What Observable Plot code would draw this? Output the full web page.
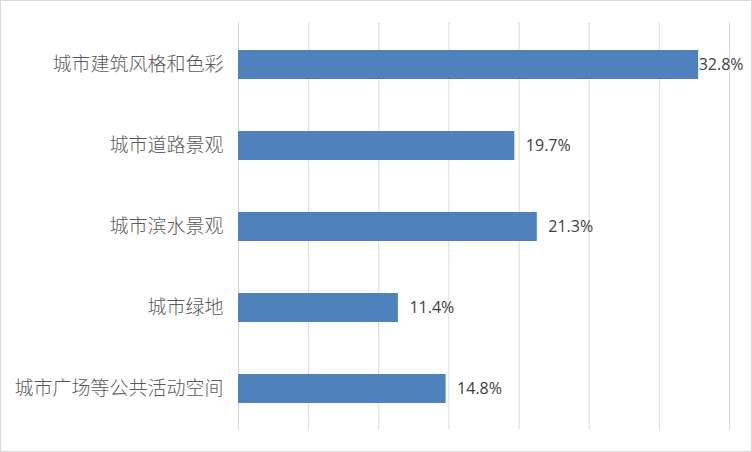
<!DOCTYPE html>
<html><head><meta charset="utf-8">
<script src="https://cdn.jsdelivr.net/npm/d3@7"></script>
<script src="https://cdn.jsdelivr.net/npm/@observablehq/plot@0.6"></script>
<style>
body{margin:0;background:#fff;}
#chart svg{display:block;}
#chart{width:750px;height:450px;border:1px solid #d9d9d9;overflow:hidden;}
</style></head>
<body><div id="chart"></div>
<script>
const categories = ["城市建筑风格和色彩","城市道路景观","城市滨水景观","城市绿地","城市广场等公共活动空间"];
const values = [32.8, 19.7, 21.3, 11.4, 14.8];
const gridTicks = [0,5,10,15,20,25,30,35];
const data = categories.map((c,i)=>({cat:c, v:values[i]}));
const labelStyle = {textAnchor:"start", fontSize:16, fill:"#404040", fontFamily:"'Open Sans', sans-serif"};
const chart = Plot.plot({
  width: 750, height: 450,
  marginLeft: 237, marginRight: 22, marginTop: 21, marginBottom: 21,
  style: {background:"#fff", fontFamily:"'Noto Sans CJK SC', sans-serif"},
  x: {domain:[0,35], axis:null},
  y: {domain: categories, paddingInner: 0.645, paddingOuter: 0.3225, label:null},
  marks: [
    Plot.ruleX(gridTicks, {stroke:"#d9d9d9", strokeWidth:1}),
    Plot.barX(data, {x:"v", y:"cat", fill:"#4f81bd"}),
    Plot.text(data, {filter: d=>d.v < 30, x:"v", y:"cat", text: d=>d.v.toFixed(1)+"%", dx:11, ...labelStyle}),
    Plot.text(data, {filter: d=>d.v >= 30, x:"v", y:"cat", text: d=>d.v.toFixed(1)+"%", dx:0, ...labelStyle}),
    Plot.axisY({tickSize:0, tickPadding:15, fontSize:19, fill:"#595959", label:null, fontWeight:300})
  ]
});
document.getElementById("chart").append(chart);
</script></body></html>
